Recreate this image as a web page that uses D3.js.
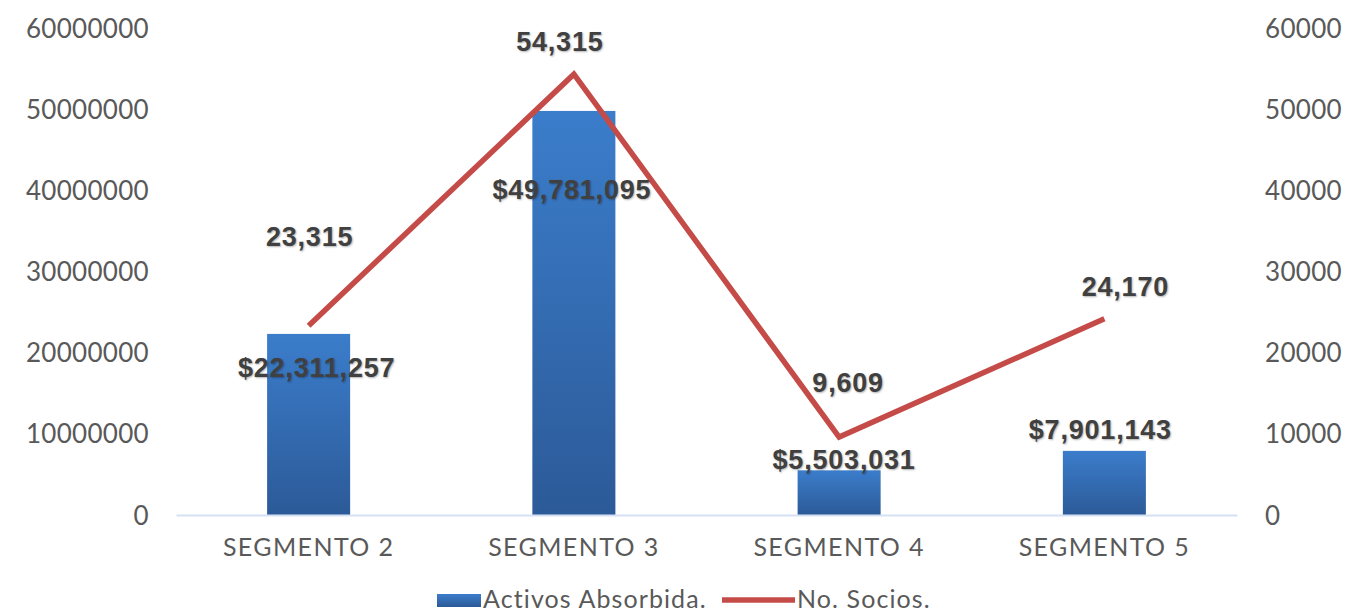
<!DOCTYPE html>
<meta charset="utf-8">
<style>
body {margin: 0; background: #fff;}
.tick text {font-family: Lato, sans-serif; fill: #595959;}
.lbl {font-family: "Liberation Sans", Arial, sans-serif; font-weight: bold; font-size: 27px; fill: #404040;
      letter-spacing: 0.8px; text-shadow: 1px 1px 2px rgba(0,0,0,0.3);}
.leg {font-family: Lato, sans-serif; font-size: 25px; fill: #595959; letter-spacing: 1.1px;}
</style>
<html>
<body>
<script src="https://d3js.org/d3.v7.min.js"></script>
<script>
var width = 1370,
    height = 616;

// data
var categories = ["SEGMENTO 2", "SEGMENTO 3", "SEGMENTO 4", "SEGMENTO 5"];
var activos = [22311257, 49781095, 5503031, 7901143];
var socios = [23315, 54315, 9609, 24170];
var leftTicks = [0, 10000000, 20000000, 30000000, 40000000, 50000000, 60000000];
var rightTicks = [0, 10000, 20000, 30000, 40000, 50000, 60000];

// where the data labels sit, relative to the mark (as in the original)
var barLabelOff = [[8, 43], [-2, 88], [5, -1], [-4, -12]];
var lineLabelOff = [[1, -80], [-14, -23], [9, -45], [21, -23]];

var margin = {top: 28, left: 176, right: 133, bottom: 101};
var x0 = margin.left, x1 = width - margin.right,
    y0 = height - margin.bottom, y1 = margin.top;

var svg = d3.select("body").append("svg")
    .attr("width", width)
    .attr("height", height);

var defs = svg.append("defs");
var grad = defs.append("linearGradient").attr("id", "barGrad")
    .attr("x1", 0).attr("y1", 0).attr("x2", 0).attr("y2", 1);
grad.append("stop").attr("offset", "0%").attr("stop-color", "#3b7dcb");
grad.append("stop").attr("offset", "100%").attr("stop-color", "#2c5a98");

var x = d3.scaleBand().domain(categories).range([x0, x1]).paddingInner(0.687).paddingOuter(0.3435);
var yL = d3.scaleLinear().domain([0, 60000000]).range([y0, y1]);
var yR = d3.scaleLinear().domain([0, 60000]).range([y0, y1]);

// left axis
var gl = svg.append("g").attr("transform", "translate(" + (x0 - 24) + ",0)")
    .call(d3.axisLeft(yL).tickValues(leftTicks).tickFormat(d3.format("d")).tickSize(0));
gl.select(".domain").remove();
gl.selectAll("text").style("font-size", "26px").style("letter-spacing", "0.3px").attr("dy", "0.35em");

// right axis
var gr = svg.append("g").attr("transform", "translate(" + (x1 + 25) + ",0)")
    .call(d3.axisRight(yR).tickValues(rightTicks).tickFormat(d3.format("d")).tickSize(0));
gr.select(".domain").remove();
gr.selectAll("text").style("font-size", "26px").style("letter-spacing", "0.3px").attr("dy", "0.35em");

// bars
svg.selectAll("rect.bar")
  .data(activos)
  .enter().append("rect")
    .attr("class", "bar")
    .attr("x", function(d, i) { return x(categories[i]); })
    .attr("width", x.bandwidth())
    .attr("y", function(d) { return yL(d); })
    .attr("height", function(d) { return y0 - yL(d); })
    .attr("fill", "url(#barGrad)");

// baseline + category axis
var gx = svg.append("g").attr("transform", "translate(0," + y0 + ")")
    .call(d3.axisBottom(x).tickSize(0).tickPadding(23));
gx.select(".domain").attr("stroke", "#d6e2f3").attr("stroke-width", 2);
gx.selectAll("text").style("font-size", "25px").style("letter-spacing", "1.4px");

// line
var line = d3.line()
    .x(function(d, i) { return x(categories[i]) + x.bandwidth() / 2; })
    .y(function(d) { return yR(d); });
svg.append("path")
    .datum(socios)
    .attr("d", line)
    .attr("fill", "none")
    .attr("stroke", "#c44b48")
    .attr("stroke-width", 5.5)
    .attr("stroke-linejoin", "miter");

var fmt = d3.format(",");

// bar labels
svg.selectAll("text.blbl")
  .data(activos)
  .enter().append("text")
    .attr("class", "lbl")
    .attr("text-anchor", "middle")
    .attr("x", function(d, i) { return x(categories[i]) + x.bandwidth() / 2 + barLabelOff[i][0]; })
    .attr("y", function(d, i) { return yL(d) + barLabelOff[i][1]; })
    .text(function(d) { return "$" + fmt(d); });

// line labels
svg.selectAll("text.llbl")
  .data(socios)
  .enter().append("text")
    .attr("class", "lbl")
    .attr("text-anchor", "middle")
    .attr("x", function(d, i) { return x(categories[i]) + x.bandwidth() / 2 + lineLabelOff[i][0]; })
    .attr("y", function(d, i) { return yR(d) + lineLabelOff[i][1]; })
    .text(function(d) { return fmt(d); });

// legend
var leg = svg.append("g").attr("transform", "translate(437,600)");
leg.append("rect").attr("x", 0).attr("y", -6).attr("width", 44).attr("height", 13)
    .attr("fill", "url(#barGrad)");
leg.append("text").attr("class", "leg").attr("x", 46).attr("y", 8).text("Activos Absorbida.");
leg.append("line").attr("x1", 285).attr("x2", 358).attr("y1", 0).attr("y2", 0)
    .attr("stroke", "#c44b48").attr("stroke-width", 5.5);
leg.append("text").attr("class", "leg").attr("x", 360).attr("y", 8).text("No. Socios.");
</script>
</body>
</html>
